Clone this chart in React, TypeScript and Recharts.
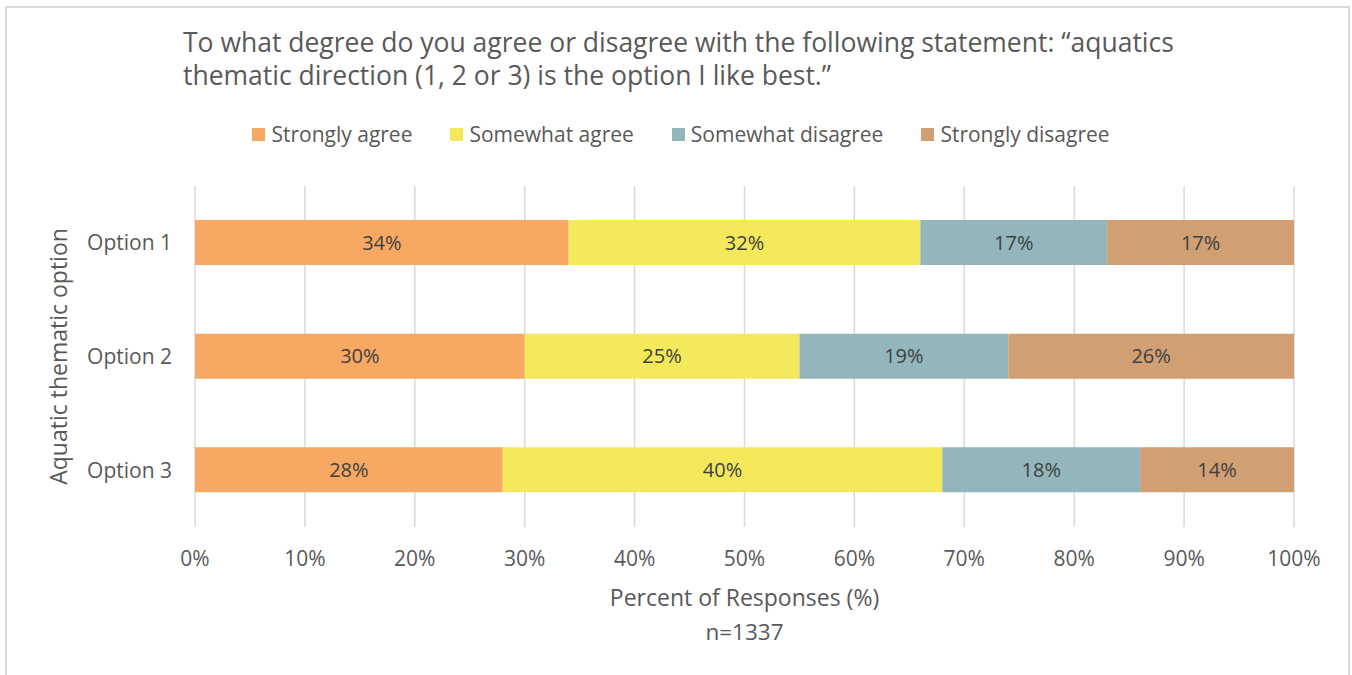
import React from 'react';
import { BarChart, Bar, XAxis, YAxis, CartesianGrid, LabelList } from 'recharts';

const categories = ['Option 1', 'Option 2', 'Option 3'];
const stronglyAgree = [34, 30, 28];
const somewhatAgree = [32, 25, 40];
const somewhatDisagree = [17, 19, 18];
const stronglyDisagree = [17, 26, 14];
const xTicks = [0, 10, 20, 30, 40, 50, 60, 70, 80, 90, 100];

const seriesNames = ['Strongly agree', 'Somewhat agree', 'Somewhat disagree', 'Strongly disagree'];
const seriesKeys = ['sa', 'wa', 'wd', 'sd'];
const seriesColors = ['#F7A862', '#F3E95B', '#92B6BC', '#D09F73'];

const data = categories.map((name, i) => ({
  name,
  sa: stronglyAgree[i],
  wa: somewhatAgree[i],
  wd: somewhatDisagree[i],
  sd: stronglyDisagree[i],
}));

const FONT = '"Open Sans", "Noto Sans", sans-serif';
const TEXT = '#595959';

const LegendBlock = () => (
  <div style={{ position: 'absolute', left: 0, top: 121, width: 1352, display: 'flex', justifyContent: 'center',
    fontFamily: FONT, fontSize: 21, lineHeight: '26px', color: TEXT, paddingLeft: 10, boxSizing: 'border-box' }}>
    {seriesNames.map((n, i) => (
      <div key={n} style={{ display: 'flex', alignItems: 'center', marginRight: i < 3 ? 38 : 0 }}>
        <span style={{ display: 'inline-block', width: 13, height: 13, background: seriesColors[i], marginRight: 6 }} />
        <span>{n}</span>
      </div>
    ))}
  </div>
);

const YTitle = (props: any) => {
  const { viewBox } = props;
  const cx = viewBox.x + 58;
  const cy = viewBox.y + viewBox.height / 2;
  return (
    <text x={cx} y={cy} transform={`rotate(-90 ${cx} ${cy})`} textAnchor="middle" dominantBaseline="central"
      fontFamily={FONT} fontSize={23} fill={TEXT}>
      Aquatic thematic option
    </text>
  );
};

const XTitle = (props: any) => {
  const { viewBox } = props;
  const cx = viewBox.x + viewBox.width / 2;
  const y0 = viewBox.y;
  return (
    <g>
      <text x={cx} y={y0 + 70} textAnchor="middle" dominantBaseline="central" fontFamily={FONT} fontSize={23} fill={TEXT}>
        Percent of Responses (%)
      </text>
      <text x={cx} y={y0 + 104} textAnchor="middle" dominantBaseline="central" fontFamily={FONT} fontSize={22.5} fill={TEXT}>
        n=1337
      </text>
    </g>
  );
};

export default function App() {
  return (
    <div style={{ position: 'absolute', left: 0, top: 0, width: 1352, height: 675, overflow: 'hidden', background: '#fff' }}>
      <div style={{ position: 'absolute', left: 5, top: 6, width: 1341, height: 720, border: '2px solid #d9d9d9' }} />
      <div style={{ position: 'absolute', left: 183, top: 26, fontFamily: FONT, fontSize: 26.5, lineHeight: '33px', color: TEXT, whiteSpace: 'nowrap' }}>
        To what degree do you agree or disagree with the following statement: “aquatics
        <br />
        thematic direction (1, 2 or 3) is the option I like best.”
      </div>
      <LegendBlock />
      <div style={{ position: 'absolute', left: 0, top: 0 }}>
        <BarChart width={1352} height={675} layout="vertical" data={data}
          margin={{ top: 186, right: 58, bottom: 0, left: 0 }} barSize={45}>
          <CartesianGrid horizontal={false} vertical={true} stroke="#d9d9d9" strokeWidth={1.5} />
          <XAxis type="number" domain={[0, 100]} ticks={xTicks} height={148} axisLine={false} tickLine={false}
            tickSize={0} tickMargin={24} interval={0} tickFormatter={(v: number) => `${v}%`}
            tick={{ fontFamily: FONT, fontSize: 21, fill: TEXT }} label={<XTitle />} />
          <YAxis type="category" dataKey="name" width={195} axisLine={false} tickLine={false} tickSize={0}
            tickMargin={23} tick={{ fontFamily: FONT, fontSize: 21, fill: TEXT }} label={<YTitle />} />
          {seriesKeys.map((k, i) => (
            <Bar key={k} dataKey={k} name={seriesNames[i]} stackId="a" fill={seriesColors[i]} isAnimationActive={false}>
              <LabelList dataKey={k} position="center" formatter={(v: any) => `${v}%`}
                style={{ fontFamily: FONT, fontSize: 20, fill: '#404040' }} />
            </Bar>
          ))}
        </BarChart>
      </div>
    </div>
  );
}
